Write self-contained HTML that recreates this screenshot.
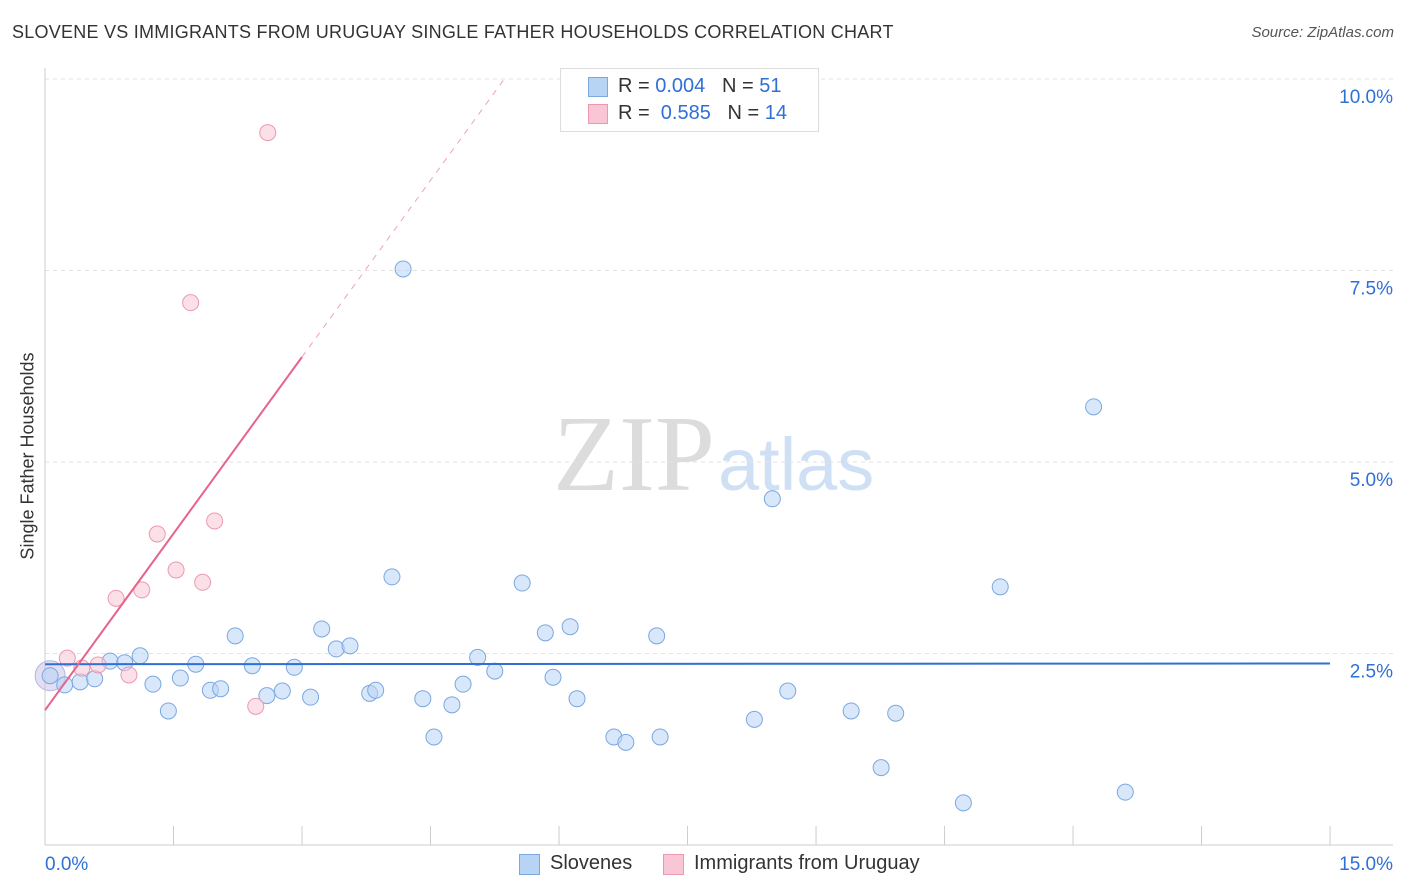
<!DOCTYPE html>
<html><head><meta charset="utf-8">
<style>
body{margin:0;background:#fff;font-family:"Liberation Sans",sans-serif;}
#wrap{position:relative;width:1406px;height:892px;overflow:hidden;}
.t{position:absolute;white-space:nowrap;}
</style></head>
<body>
<div id="wrap">
<div class="t" style="left:12px;top:22px;font-size:18px;color:#333;letter-spacing:0.25px;">SLOVENE VS IMMIGRANTS FROM URUGUAY SINGLE FATHER HOUSEHOLDS CORRELATION CHART</div>
<div class="t" style="right:12px;top:24px;font-size:15px;color:#555;font-style:italic;">Source: ZipAtlas.com</div>
<div class="t" style="left:28px;top:456px;font-size:18px;color:#333;transform:translate(-50%,-50%) rotate(-90deg);">Single Father Households</div>
<svg id="plot" width="1406" height="892" style="position:absolute;left:0;top:0"></svg>
<div style="position:absolute;left:560px;top:68px;width:257px;height:62px;border:1px solid #ddd;background:#fff;">
 <div style="position:absolute;left:27px;top:8px;width:18px;height:18px;background:#b8d4f5;border:1px solid #7aa8e0;"></div>
 <div class="t" style="left:57px;top:6px;font-size:20px;color:#333;">R = <span style="color:#2f6fd6">0.004</span>&nbsp;&nbsp;&nbsp;N = <span style="color:#2f6fd6">51</span></div>
 <div style="position:absolute;left:27px;top:35px;width:18px;height:18px;background:#f9c6d6;border:1px solid #ec98b2;"></div>
 <div class="t" style="left:57px;top:33px;font-size:20px;color:#333;">R = &nbsp;<span style="color:#2f6fd6">0.585</span>&nbsp;&nbsp;&nbsp;N = <span style="color:#2f6fd6">14</span></div>
</div>
<div>
 <div style="position:absolute;left:519px;top:854px;width:19px;height:19px;background:#b8d4f5;border:1px solid #7aa8e0;"></div>
 <div class="t" style="left:550px;top:852px;font-size:20px;color:#333;">Slovenes</div>
 <div style="position:absolute;left:663px;top:854px;width:19px;height:19px;background:#f9c6d6;border:1px solid #ec98b2;"></div>
 <div class="t" style="left:694px;top:852px;font-size:20px;color:#333;">Immigrants from Uruguay</div>
</div>
</div>
<script>
const blueX=[0.06,0.23,0.41,0.58,0.76,0.93,1.11,1.26,1.44,1.58,1.76,1.93,2.05,2.22,2.42,2.59,2.77,2.91,3.10,3.23,3.40,3.56,3.79,3.86,4.05,4.18,4.41,4.54,4.75,4.88,5.05,5.25,5.57,5.84,5.93,6.13,6.21,6.64,6.78,7.14,7.18,8.28,8.49,8.67,9.41,9.76,9.93,10.72,11.15,12.24,12.61];
const blueY=[2.21,2.09,2.13,2.17,2.40,2.38,2.47,2.10,1.75,2.18,2.36,2.02,2.04,2.73,2.34,1.95,2.01,2.32,1.93,2.82,2.56,2.60,1.98,2.02,3.50,7.52,1.91,1.41,1.83,2.10,2.45,2.27,3.42,2.77,2.19,2.85,1.91,1.41,1.34,2.73,1.41,1.64,4.52,2.01,1.75,1.01,1.72,0.55,3.37,5.72,0.69];
const pinkX=[0.26,0.43,0.62,0.83,0.98,1.13,1.31,1.53,1.70,1.84,1.98,2.46,2.60];
const pinkY=[2.44,2.31,2.35,3.22,2.22,3.33,4.06,3.59,7.08,3.43,4.23,1.81,9.30];
const blueTrend=[2.36,2.37];
const pinkTrend={intercept:1.76,slope:1.537};
const yTicks=[2.5,5.0,7.5,10.0];
const yTickLabels=["2.5%","5.0%","7.5%","10.0%"];
const xTicks=[0,1.5,3,4.5,6,7.5,9,10.5,12,13.5,15];

const X=v=>45+v*85.67, Y=v=>845-v*76.6;
const svg=document.getElementById('plot');const NS="http://www.w3.org/2000/svg";
function el(tag,attrs,name){const e=document.createElementNS(NS,tag);for(const k in attrs)e.setAttribute(k,attrs[k]);


svg.appendChild(e);return e;}
let w=el('text',{x:553,y:490,'font-size':108,'font-family':'Liberation Serif,serif',fill:'#dcdcdc'},'watermark-zip');w.textContent='ZIP';
w=el('text',{x:718,y:490,'font-size':74,'font-family':'Liberation Sans,sans-serif',fill:'#cfe0f5'},'watermark-atlas');w.textContent='atlas';
yTicks.forEach((t,i)=>{el('line',{x1:45,x2:1393,y1:Y(t),y2:Y(t),stroke:'#e2e2e2','stroke-dasharray':'4,4'},'y-gridline');
const tx=el('text',{x:1393,y:Y(t)+24,'text-anchor':'end','font-size':19,fill:'#2f6fd6','font-family':'Liberation Sans,sans-serif'},'y-tick-label');tx.textContent=yTickLabels[i];});
el('line',{x1:45,x2:45,y1:68,y2:845,stroke:'#ccc'},'y-axis-line');
el('line',{x1:45,x2:1393,y1:845,y2:845,stroke:'#ccc'},'x-axis-line');
xTicks.forEach(t=>el('line',{x1:X(t),x2:X(t),y1:826,y2:845,stroke:'#ccc'},'x-tick'));
let a=el('text',{x:45,y:870,'font-size':19,fill:'#2f6fd6','font-family':'Liberation Sans,sans-serif'},'x-tick-label-min');a.textContent='0.0%';
a=el('text',{x:1393,y:870,'text-anchor':'end','font-size':19,fill:'#2f6fd6','font-family':'Liberation Sans,sans-serif'},'x-tick-label-max');a.textContent='15.0%';
el('circle',{cx:X(0.06),cy:Y(2.21),r:15,fill:'rgba(200,190,230,0.5)',stroke:'#b0b8e6'},'cluster-point');
blueX.forEach((x,i)=>el('circle',{cx:X(x),cy:Y(blueY[i]),r:8,fill:'rgba(184,212,245,0.55)',stroke:'#7aa8e0','stroke-width':1},'slovene-point'));
pinkX.forEach((x,i)=>el('circle',{cx:X(x),cy:Y(pinkY[i]),r:8,fill:'rgba(249,198,214,0.55)',stroke:'#ec98b2','stroke-width':1},'uruguay-point'));
el('line',{x1:X(0),x2:X(15),y1:Y(blueTrend[0]),y2:Y(blueTrend[1]),stroke:'#2f6fd6','stroke-width':2},'slovene-trendline');
const pe=3.0,pd=(10.0-pinkTrend.intercept)/pinkTrend.slope;
el('line',{x1:X(0),x2:X(pe),y1:Y(pinkTrend.intercept),y2:Y(pinkTrend.intercept+pinkTrend.slope*pe),stroke:'#e8628c','stroke-width':2},'uruguay-trendline');
el('line',{x1:X(pe),x2:X(pd),y1:Y(pinkTrend.intercept+pinkTrend.slope*pe),y2:Y(10.0),stroke:'#f0a0b8','stroke-width':1,'stroke-dasharray':'6,6'},'uruguay-trendline-extension');
</script>
</body></html>
